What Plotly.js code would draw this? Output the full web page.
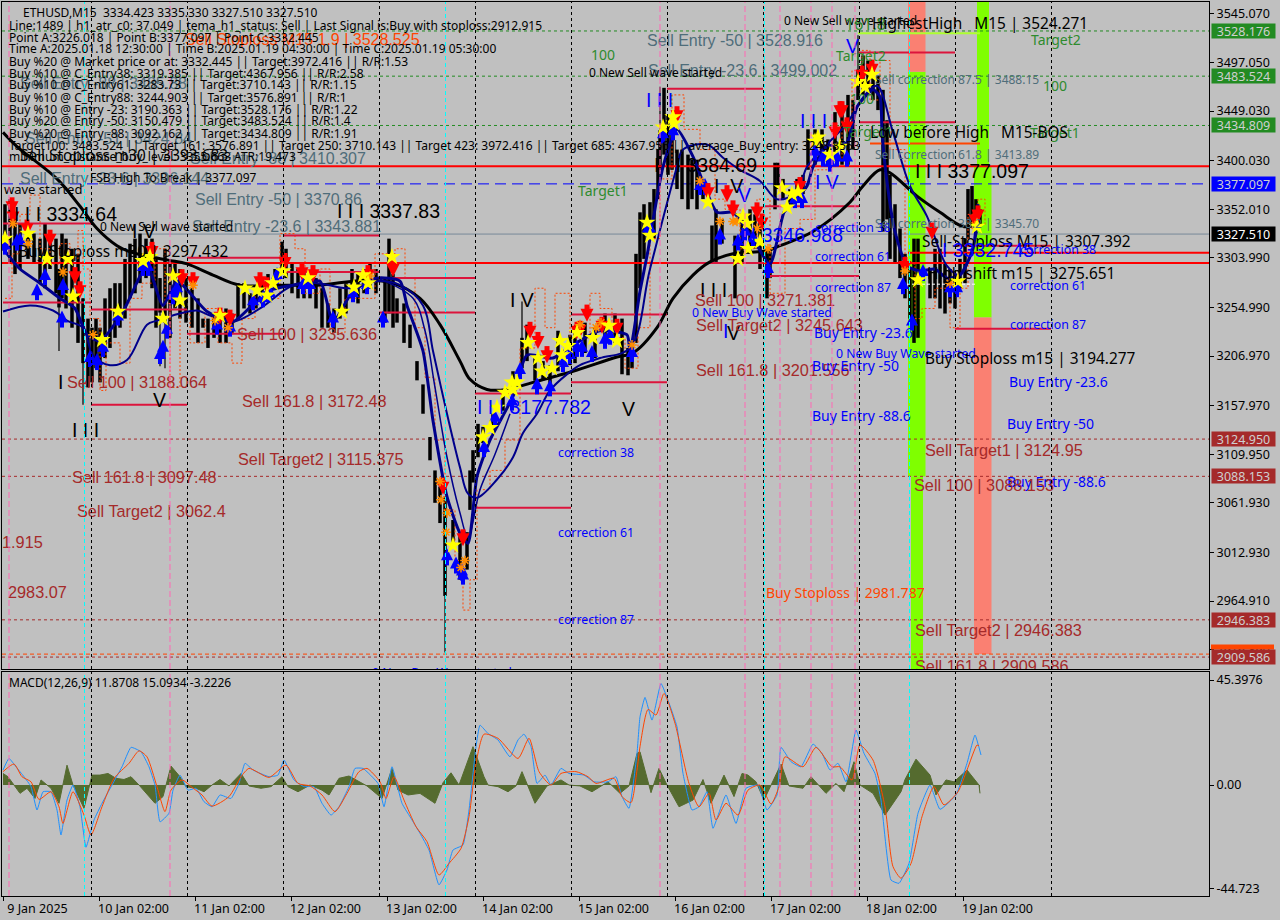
<!DOCTYPE html>
<html><head><meta charset="utf-8">
<script src="https://cdn.plot.ly/plotly-3.0.1.min.js"></script>
<style>html,body{margin:0;padding:0;background:#c0c0c0}#c{width:1280px;height:920px}</style></head>
<body><div id="c"></div><script>
const W=1280,H=920,TAHOMA='"Noto Sans"',ARIAL='"Liberation Sans"';
// axes
const dayTickBars=[3.5,99.5,195.5,291.5,387.5,483.5,579.5,675.5,771.5,867.5,963.5];
const dayTickText=['9 Jan 2025','10 Jan 02:00','11 Jan 02:00','12 Jan 02:00','13 Jan 02:00','14 Jan 02:00','15 Jan 02:00','16 Jan 02:00','17 Jan 02:00','18 Jan 02:00','19 Jan 02:00'];
const priceTicks=[3545.07,3497.05,3449.03,3400.03,3352.01,3303.99,3254.99,3206.97,3157.97,3109.95,3061.93,3012.93,2964.91,2916.89];
const macdTicks=[45.3976,0,-44.723];
const macdTickText=['45.3976','0.00','-44.723'];
// period separators and signal verticals
const dayBars=[91.5,187.5,283.5,379.5,475.5,571.5,667.5,763.5,859.5,955.5,1051.5];
const cyanBars=[84.5,445.5,764.5,909.5];
const pinkBars=[9,170,660,745,780,811,832,855];
// candles as high / low
const barNo=[5,10,15,20,28,34,40,45,50,56,59,62,66,72,78,83,88,92,96,100,105,110,115,120,125,130,135,140,146,152,156,160,165,170,175,180,186,192,198,203,208,214,220,226,232,238,244,250,256,262,268,275,282,286,292,298,304,310,316,322,328,334,340,346,352,358,364,370,376,385,389,393,397,404,410,417,423,430,435,440,445,453,460,467,470,473,478,483,493,503,513,522,527,535,543,550,558,570,575,585,595,605,615,622,628,632,636,640,644,650,654,658,660,664,668,672,677,682,688,692,697,703,712,716,722,735,742,750,755,760,767,770,775,778,783,790,797,803,808,815,822,828,835,842,848,853,858,863,868,873,878,883,887,890,895,900,905,910,914,918,930,935,940,945,950,955,960,965,968,972,976,980];
const barHigh=[3357,3362,3347,3338,3338,3328,3323,3338,3328,3323,3293,3328,3323,3313,3308,3264,3244,3235,3244,3235,3264,3274,3279,3279,3303,3318,3323,3328,3323,3323,3303,3284,3313,3298,3298,3293,3284,3274,3264,3244,3244,3249,3254,3254,3249,3279,3279,3269,3274,3279,3288,3293,3320,3313,3298,3293,3293,3288,3284,3274,3259,3254,3274,3279,3293,3288,3293,3298,3293,3284,3323,3288,3264,3259,3238,3202,3179,3127,3094,3078,3068,3045,3029,3033,3094,3114,3140,3137,3150,3171,3192,3225,3238,3205,3202,3198,3232,3228,3235,3240,3235,3249,3249,3244,3215,3220,3308,3349,3357,3359,3372,3411,3430,3472,3445,3431,3411,3411,3406,3401,3401,3377,3336,3352,3342,3326,3347,3352,3347,3342,3310,3313,3398,3398,3382,3372,3382,3386,3431,3431,3431,3421,3448,3450,3465,3460,3490,3504,3499,3489,3484,3470,3440,3386,3357,3333,3308,3293,3323,3323,3293,3313,3313,3298,3293,3288,3303,3323,3372,3375,3362,3352];
const barLow=[3308,3298,3288,3293,3303,3298,3279,3274,3293,3269,3255,3264,3254,3235,3220,3200,3176,3181,3195,3181,3205,3215,3225,3235,3244,3264,3269,3279,3284,3274,3235,3250,3240,3225,3254,3244,3240,3235,3220,3235,3215,3225,3220,3220,3230,3244,3254,3249,3254,3259,3264,3274,3293,3284,3269,3264,3264,3264,3254,3235,3235,3230,3244,3249,3264,3259,3269,3274,3269,3240,3249,3235,3240,3220,3215,3183,3150,3104,3062,3042,2970,3019,2986,2996,3055,3082,3107,3121,3134,3153,3169,3195,3202,3183,3183,3176,3192,3198,3200,3210,3205,3215,3220,3189,3188,3195,3220,3274,3303,3328,3323,3362,3391,3406,3386,3391,3372,3362,3352,3362,3352,3362,3300,3300,3318,3264,3298,3308,3313,3293,3264,3284,3352,3372,3362,3357,3362,3367,3391,3396,3406,3396,3406,3396,3396,3411,3460,3465,3470,3460,3450,3330,3342,3303,3298,3284,3264,3244,3220,3225,3264,3264,3254,3249,3259,3254,3274,3279,3323,3337,3337,3337];
const spikeBars=[59,83,160,165,445,522,660,858];
const spikeHigh=[3293,3264,3284,3313,3068,3261,3473,3524];
const spikeLow=[3212,3159,3197,3195,2914,3195,3391,3460];
// moving average and fast/slow lines
const emaBars=[3,17,57,80,97,117,130,167,187,213,240,283,317,367,393,420,440,460,470,487,507,533,573,617,633,657,673,693,710,733,767,780,813,850,863,880,890,917,940,963,975];
const emaValues=[3428,3414,3382,3355,3333,3316,3310,3302,3298,3287,3277,3277,3277,3282,3279,3264,3238,3202,3184,3174,3174,3181,3192,3206,3210,3235,3264,3287,3300,3308,3311,3316,3330,3359,3375,3391,3388,3365,3349,3335,3336];
const fastBars=[3,20,40,60,75,87,100,123,147,163,177,207,233,267,293,320,333,353,377,400,407,423,433,447,460,468,477,490,513,527,553,573,600,627,630,640,647,663,677,693,717,733,750,770,784,793,807,813,827,847,857,873,880,882,887,895,907,920,935,947,960,973,978];
const fastValues=[3313,3293,3279,3264,3254,3228,3222,3251,3296,3257,3281,3251,3241,3271,3277,3281,3241,3271,3284,3281,3257,3212,3143,3068,3032,3022,3088,3124,3167,3208,3205,3218,3232,3228,3212,3271,3306,3394,3431,3404,3349,3349,3328,3298,3349,3359,3375,3394,3414,3418,3453,3470,3463,3428,3379,3330,3296,3291,3293,3284,3287,3313,3357];
const slowBars=[3,30,53,67,83,93,110,127,147,157,180,197,210,233,260,293,317,350,377,400,423,433,447,460,468,477,497,513,523,537,550,567,580,600,630,650,677,683,707,723,740,760,777,797,807,827,847,865,877,893,910,927,947,960,977];
const slowValues=[3251,3257,3252,3242,3235,3208,3198,3203,3238,3242,3249,3252,3247,3241,3254,3277,3279,3274,3281,3277,3257,3212,3150,3097,3071,3067,3085,3107,3131,3150,3173,3189,3198,3205,3215,3293,3394,3411,3416,3403,3391,3380,3362,3369,3394,3416,3437,3465,3474,3428,3375,3345,3296,3287,3330];
const midBars=[380,413,425,435,447,460,468,480,495,510];
const midValues=[3283,3264,3232,3176,3107,3052,3028,3075,3110,3150];
const stepBars=[5,12,20,30,40,50,60,70,78,83,90,100,106,120,130,142,155,165,170,180,190,205,218,232,242,255,270,280,295,305,320,330,345,360,375,395,405,415,425,435,445,455,463,470,477,490,505,520,535,545,555,570,590,600,612,625,638,650,660,672,684,700,715,725,740,757,770,785,800,815,830,842,852,862,870,880,890,905,915,922,935,950,960,968,978,985];
const stepValues=[3264,3308,3347,3366,3313,3298,3318,3303,3331,3293,3244,3173,3220,3200,3264,3279,3313,3259,3176,3249,3220,3254,3220,3200,3244,3269,3264,3328,3313,3269,3293,3230,3264,3264,3308,3313,3284,3235,3186,3124,3055,3005,2956,2986,3075,3094,3124,3215,3274,3235,3269,3225,3269,3254,3225,3195,3235,3323,3382,3465,3431,3411,3362,3352,3313,3362,3269,3333,3342,3391,3401,3440,3489,3509,3460,3499,3411,3298,3244,3254,3274,3235,3274,3347,3362,3337];
// signal markers
const buyBars=[37,45,63,5,17,20,62,90,97,103,118,143,148,173,177,167,163,160,217,230,253,263,270,277,303,310,333,353,367,383,447,456,462,463,484,495,512,520,537,550,563,570,577,582,592,605,610,632,648,650,663,673,700,705,720,738,745,753,768,795,802,815,823,830,837,847,903,912,923,950,957];
const buyValues=[3271,3286,3276,3316,3320,3321,3244,3205,3202,3215,3246,3295,3295,3267,3274,3233,3215,3208,3237,3235,3261,3264,3269,3287,3277,3277,3244,3269,3277,3244,3009,3001,2994,2990,3116,3146,3162,3193,3178,3176,3200,3208,3215,3215,3210,3223,3227,3210,3333,3333,3426,3429,3375,3375,3326,3320,3330,3323,3293,3362,3362,3409,3403,3398,3403,3403,3277,3241,3290,3274,3274];
const sellBars=[12,13,27,50,75,80,152,182,193,220,230,260,267,285,302,313,368,393,443,463,530,538,547,580,587,602,617,577,677,708,727,733,757,762,800,840,835,847,842,862,872,905,932,978,975];
const sellValues=[3355,3345,3333,3323,3286,3272,3311,3284,3281,3246,3244,3281,3276,3300,3290,3288,3288,3293,3078,3027,3232,3222,3208,3233,3249,3237,3235,3232,3445,3369,3367,3352,3350,3339,3375,3450,3429,3434,3450,3485,3491,3296,3330,3347,3342];
const starBars=[5,28,68,47,73,102,118,143,150,173,180,163,220,245,257,267,273,283,308,354,342,363,368,392,453,483,490,497,505,512,517,513,528,538,542,552,560,568,562,577,593,609,617,647,650,663,673,674,708,738,743,747,748,760,782,787,792,798,815,818,830,840,858,865,872,918,958,977];
const starValues=[3323,3328,3303,3303,3266,3223,3251,3301,3305,3286,3262,3244,3247,3274,3272,3267,3279,3291,3284,3275,3251,3287,3279,3305,3020,3127,3136,3156,3171,3181,3181,3174,3220,3205,3192,3195,3222,3217,3208,3230,3225,3237,3222,3339,3326,3433,3443,3437,3359,3303,3345,3338,3313,3320,3373,3354,3367,3369,3419,3423,3406,3414,3478,3473,3485,3282,3281,3335];
const crossBars=[13,28,93,63,215,228,193,370,440,441,447,446,465,461,580,596,601,632,700,720,733,737,757,768,905,950,975];
const crossValues=[3338,3318,3228,3290,3242,3235,3277,3286,3083,3065,3052,3033,3005,2998,3238,3235,3240,3218,3380,3340,3340,3340,3333,3313,3291,3279,3336];
// wave levels: start bar, end bar, price
const crimsonStart=[3,3,91,91,187,187,283,283,379,379,475,475,571,571,667,667,763,763,859,859,955,955];
const crimsonEnd=[91,91,187,187,283,283,379,379,475,475,571,571,667,667,763,763,859,859,955,955,1051,1051];
const crimsonPrice=[3338,3260,3253,3159,3304,3229,3326,3290,3284,3250,3170,3057,3248,3181,3471,3299,3355,3286,3507,3438,3316,3234];
const greenLevels=[3528.176,3483.524,3434.809];
const brownLevels=[3124.95,3088.153,2946.383,2909.586];
// right-hand price tags
const tagText=['3528.176','3483.524','3434.809','3377.097','3327.510','3124.950','3088.153','2946.383','2909.586'];
const tagPrice=[3528.176,3483.524,3434.809,3377.097,3327.51,3124.95,3088.153,2946.383,2909.586];
const tagColor=['#228b22','#228b22','#228b22','#0000ff','#000000','#a52a2a','#a52a2a','#a52a2a','#a52a2a'];
// macd
const histBars=[3,8,14,20,27,35,41,51,59,67,73,84,92,100,108,116,124,131,139,155,163,171,180,186,196,204,212,220,229,241,249,261,271,282,288,298,310,322,329,339,349,359,367,382,392,398,408,420,435,443,451,459,473,484,488,498,508,516,522,535,547,561,569,580,592,608,620,629,637,640,646,651,659,667,679,693,703,711,724,734,742,748,756,764,781,789,803,811,826,836,844,854,860,873,885,901,905,916,930,936,946,954,967,979,980];
const histValues=[5,3.6,0,-3.6,-1.4,-5.8,2.2,-1.4,-7.9,8.6,0,-10.1,4.3,4.3,5,2.9,2.4,3.6,0,-7.9,-5,8.2,3.6,-0.7,-1.4,-2.9,0,2.4,-0.4,5,-0.4,-1.4,-0.7,3.6,-0.7,-2.9,0,-2.2,-4.3,2.9,3.9,1.4,-0.4,-5.8,7.2,-2.2,-4.3,-3.6,-7.9,1,5.3,0,16.6,3.6,0,-0.7,-2.9,-0.4,5.8,-7.9,-0.4,2.2,0,-0.4,-2.9,1.4,-3.6,-0.4,13.7,14.4,5,-3.3,7.2,0,-9.4,-6.5,2.4,-7.9,4.3,-5,5,4.3,1.4,-6.5,9.1,-0.4,-1.4,3.6,-3.6,0.7,-2.9,10.1,0,-3.6,-13,-2.9,2.4,11.2,4.3,-4.3,2.2,1.4,6.5,0,-3.6];
const macdBars=[3,9,16,24,31,37,43,51,57,61,67,73,80,86,94,102,112,122,131,141,149,155,160,169,173,180,188,196,204,212,220,231,239,245,253,269,278,284,294,304,314,322,331,339,349,355,363,378,384,392,402,412,420,429,439,447,453,463,469,476,480,488,498,510,518,524,531,537,545,551,561,569,584,594,608,616,622,629,637,640,645,652,661,668,677,683,692,699,707,713,726,736,746,758,767,777,781,791,801,813,822,830,838,846,856,864,875,881,891,899,909,918,930,940,956,967,975,981];
const macdValues=[6.5,11.5,7.9,3.6,-0.7,-10.8,-2.9,-2.9,-10.8,-21.6,-6.5,0,-9.4,-26.9,-15.1,-7.9,0,7.9,16.3,14.4,7.9,0,-15.9,-12.2,-2.2,4.3,-2.2,-1.4,-7.2,-9.4,-4.3,-5.8,0.7,9.4,6.5,3.6,4.3,10.8,2.2,-0.7,-0.7,-7.9,-13,-9.4,-0.7,7.2,7.2,0.7,-9.4,7.9,-7.9,-15.1,-20.9,-28.1,-43.2,-36.7,-28.1,-25.9,-10.8,16.6,25.9,22.3,19.5,12.2,19.5,22,16.6,0.7,4.3,0,7.2,5,4.3,1.4,1.4,3.6,-5,-10.1,13.7,29.5,37.9,28.1,43.9,36.7,25.2,5,-10.8,-9.4,-2.9,-18.7,-4.3,-16.6,-1.4,0,-10.8,-4.3,16.3,10.1,7.9,17.7,13.7,6.5,9.4,1.4,23.8,13.7,5,-6.5,-41.1,-42.5,-33.9,-12.2,0,-10.5,-4.3,9.4,21.6,13];
const signalBars=[3,14,22,31,39,51,59,63,73,84,91,102,114,129,139,147,157,165,171,182,192,202,212,229,241,249,269,286,298,310,322,335,347,359,367,380,386,394,404,416,427,439,449,461,469,476,484,498,518,529,539,551,561,576,588,596,614,622,631,637,640,648,656,664,675,689,699,709,716,726,738,748,760,771,779,785,803,816,832,840,852,860,873,885,893,901,911,922,934,944,958,967,977,979];
const signalValues=[5.8,9.1,3.6,1.4,-6.2,-2.9,-9.4,-16.6,-2.9,-13,-21.6,-9.4,2.9,9.4,14.8,12.2,-0.7,-11.5,-2.2,2.2,-1,-4.3,-9.1,-5,3.6,7.2,3.3,8.6,0.7,-0.4,-4.3,-11.5,-3.6,5.8,7.2,1.4,-5.8,3.6,-6.5,-18,-24.5,-38.9,-33.9,-27.4,-13.7,9.4,22,20.2,11.5,20.2,5.8,0,5,5.8,3.6,0.7,2.9,-5,-7.6,6.5,16.6,32.7,30.3,39.6,26.7,0.7,-9.4,-3.6,-15.1,-7.9,-13,-2.2,0,-8.2,-0.7,12.2,7.9,16.3,7.9,7.9,2.2,17.3,10.8,-9.4,-35.3,-40.3,-33.9,-13.7,-0.7,-8.6,-2.9,6.5,17.3,16.9];
// chart labels
const SLATE='#4f6d7a',BROWN='#a52a2a',BLUE='#0000ff',GREEN='#2e8b2e',BLACK='#000000',ORANGE='#ff4500';
const chartLabels=[
['Sell Entry -88 | 3485.88',20,3477,16,SLATE,ARIAL],['Sell Entry -51 | 3424.84',25,3423,16,SLATE,ARIAL],['Sell Entry -88 | 3410.307',190,3403,16,SLATE,ARIAL],
['Sell Entry -23.6 | 3396.144',20,3383,16,SLATE,ARIAL],['Sell Entry -50 | 3370.86',195,3363,16,SLATE,ARIAL],['Sell Entry -23.6 | 3343.881',192,3336,16,SLATE,ARIAL],
['Sell Entry -50 | 3528.916',647,3520,16,SLATE,ARIAL],['Sell Entry -23.6 | 3499.002',648,3490,16,SLATE,ARIAL],
['Sell Stoploss m30 | 3393.683',20,3406,15.4,BLACK,TAHOMA],['Sell Stoploss M15 1.9 | 3528.525',185,3521,16,ORANGE,ARIAL],
['FSB High To Break | 3377.097',90,3384,12,BLACK,TAHOMA],['wave started',4,3373,13,BLACK,TAHOMA],['I I I 3334.64',14,3348,19.5,BLACK,ARIAL],
['0 New Sell wave started',100,3336,12,BLACK,TAHOMA],['I V',132,3331,19.5,BLACK,ARIAL],['Buy Stoploss m30 | 3297.432',18,3311,15.4,BLACK,TAHOMA],['I I I 3337.83',337,3351,19.5,BLACK,ARIAL],
['Sell 100 | 3235.636',237,3229,16.3,BROWN,ARIAL],['Sell 100 | 3188.064',67,3182,16.3,BROWN,ARIAL],['I',58,3182,19.5,BLACK,ARIAL],['V',153,3164,19.5,BLACK,ARIAL],['I I I',72,3134,19.5,BLACK,ARIAL],
['Sell 161.8 | 3172.48',242,3163,16.3,BROWN,ARIAL],['Sell Target2 | 3115.375',238,3106,16.3,BROWN,ARIAL],['Sell 161.8 | 3097.48',72,3088,16.3,BROWN,ARIAL],['Sell Target2 | 3062.4',77,3054,16.3,BROWN,ARIAL],
['1.915',2,3024,16.3,BROWN,ARIAL],['2983.07',8,2974,16.3,BROWN,ARIAL],
['correction 38',558,3113,12.3,BLUE,TAHOMA],['correction 61',558,3034,12.3,BLUE,TAHOMA],['correction 87',558,2948,12.3,BLUE,TAHOMA],['0 New Buy Wave started',372,2895,12.3,BLUE,TAHOMA],
['I I I 3177.782',477,3157,19.5,BLUE,ARIAL],['I V',510,3263,19.5,BLACK,ARIAL],['V',622,3155,19.5,BLACK,ARIAL],['Target1',578,3371,14,GREEN,TAHOMA],['100',591,3505,14,GREEN,TAHOMA],
['0 New Sell wave started',589,3488,12,BLACK,TAHOMA],['I I I',646,3460,19.5,BLUE,ARIAL],['I I I 3384.69',654,3396,19.5,BLACK,ARIAL],['I  V',714,3375,19.5,BLACK,ARIAL],['V',738,3367,19.5,BLUE,ARIAL],
['I I 3346.988',740,3327,19.5,BLUE,ARIAL],['I I I',700,3273,19.5,BLACK,ARIAL],['I',723,3232,19.5,BLUE,ARIAL],['V',727,3230,19.5,BLACK,ARIAL],
['Sell 100 | 3271.381',695,3263,16.3,BROWN,ARIAL],['0 New Buy Wave started',692,3251,12.3,BLUE,TAHOMA],['Sell Target2 | 3245.643',696,3238,16.3,BROWN,ARIAL],['Sell 161.8 | 3201.556',696,3194,16.3,BROWN,ARIAL],
['correction 38',815,3335,12.3,BLUE,TAHOMA],['correction 61',815,3306,12.3,BLUE,TAHOMA],['correction 87',815,3276,12.3,BLUE,TAHOMA],
['Buy Entry -23.6',814,3231,14,BLUE,TAHOMA],['0 New Buy Wave started',836,3211,12.3,BLUE,TAHOMA],['Buy Entry -50',812,3198,14,BLUE,TAHOMA],['Buy Entry -88.6',812,3149,14,BLUE,TAHOMA],
['Buy Stoploss | 2981.787',766,2974,14,ORANGE,TAHOMA],['0 New Sell wave started',784,3540,12,BLACK,TAHOMA],['161.8',845,3536,16,GREEN,TAHOMA],['HighestHigh   M15 | 3524.271',872,3536,15.4,BLACK,TAHOMA],
['Target2',1031,3520,14,GREEN,TAHOMA],['Target2',836,3504,14,GREEN,TAHOMA],['V',846,3514,19.5,BLUE,ARIAL],['100',1043,3475,14,GREEN,TAHOMA],['100',850,3462,14,GREEN,TAHOMA],
['I I I',800,3440,19.5,BLUE,ARIAL],['Target1',843,3429,14,GREEN,TAHOMA],['Target1',1030,3428,14,GREEN,TAHOMA],['Low before High   M15-BOS',870,3429,15.4,BLACK,TAHOMA],
['Sell correction 87.5 | 3488.15',875,3481,12,SLATE,TAHOMA],['Sell correction 61.8 | 3413.89',875,3407,12,SLATE,TAHOMA],['Sell correction 38.2 | 3345.70',875,3339,12,SLATE,TAHOMA],
['I I I 3377.097',915,3390,19.5,BLACK,ARIAL],['I V',815,3379,19.5,BLUE,ARIAL],['Sell-Stoploss M15 | 3307.392',922,3321,15.4,BLACK,TAHOMA],['I 3332.745',942,3312,19.5,BLUE,ARIAL],
['correction 38',1020,3313,12.3,BLUE,TAHOMA],['High shift m15 | 3275.651',927,3289,15.4,BLACK,TAHOMA],['correction 61',1010,3278,12.3,BLUE,TAHOMA],['correction 87',1010,3239,12.3,BLUE,TAHOMA],
['Buy Stoploss m15 | 3194.277',925,3205,15.4,BLACK,TAHOMA],['Buy Entry -23.6',1009,3182,14,BLUE,TAHOMA],['Buy Entry -50',1007,3141,14,BLUE,TAHOMA],['Buy Entry -88.6',1007,3084,14,BLUE,TAHOMA],
['Sell Target1 | 3124.95',925,3115,16.3,BROWN,ARIAL],['Sell 100 | 3088.153',914,3080,16.3,BROWN,ARIAL],['Sell Target2 | 2946.383',915,2937,16.3,BROWN,ARIAL],['Sell 161.8 | 2909.586',915,2901,16.3,BROWN,ARIAL]
];
const infoLines=['Line:1489 | h1_atr_c0: 37.049 | tema_h1_status: Sell | Last Signal is:Buy with stoploss:2912.915',
'Point A:3226.018 | Point B:3377.097 | Point C:3332.445','Time A:2025.01.18 12:30:00 | Time B:2025.01.19 04:30:00 | Time C:2025.01.19 05:30:00',
'Buy %20 @ Market price or at: 3332.445 || Target:3972.416 || R/R:1.53','Buy %10 @ C_Entry38: 3319.385 || Target:4367.956 || R/R:2.58',
'Buy %10 @ C_Entry61: 3283.73 || Target:3710.143 || R/R:1.15','Buy %10 @ C_Entry88: 3244.903 || Target:3576.891 || R/R:1',
'Buy %10 @ Entry -23: 3190.363 || Target:3528.176 || R/R:1.22','Buy %20 @ Entry -50: 3150.479 || Target:3483.524 || R/R:1.4',
'Buy %20 @ Entry -88: 3092.162 || Target:3434.809 || R/R:1.91',
'Target100: 3483.524 || Target 161: 3576.891 || Target 250: 3710.143 || Target 423: 3972.416 || Target 685: 4367.956 || average_Buy_entry: 3248.8553',
'minimum_distance_buy_level: 3355.663 ATR:19.473'];
const header='ETHUSD,M15  3334.423 3335.330 3327.510 3327.510';
const macdHeader='MACD(12,26,9) 11.8708 15.0934 -3.2226';
// helpers
const xEnds=[2,1209];
const LABEL_DROP=2.5, ARROW_LIFT=8, STEM_DROP=4;
function hline(p,c,w,d,x0,x1){return {x:[x0??xEnds[0],x1??xEnds[1]],y:[p,p],mode:'lines',line:{color:c,width:w,dash:d||'solid'},xaxis:'x2',yaxis:'y2',hoverinfo:'skip',showlegend:false};}
function main(o){return Object.assign({xaxis:'x2',yaxis:'y2',hoverinfo:'skip',showlegend:false},o);}
function low(o){return Object.assign({xaxis:'x',yaxis:'y',hoverinfo:'skip',showlegend:false},o);}
const wickX=[],wickY=[];barNo.forEach((b,i)=>{wickX.push(b,b,null);wickY.push(barHigh[i],barLow[i],null);});
const spikeX=[],spikeY=[];spikeBars.forEach((b,i)=>{spikeX.push(b,b,null);spikeY.push(spikeHigh[i],spikeLow[i],null);});
const segX=[],segY=[];crimsonStart.forEach((s,i)=>{segX.push(s,crimsonEnd[i],null);segY.push(crimsonPrice[i],crimsonPrice[i],null);});
const traces=[
 hline(3327.51,'#778899',1),
 ...greenLevels.map(p=>hline(p,'#228b22',1,'3px,3px')),
 ...brownLevels.map(p=>hline(p,'#a52a2a',1,'3px,3px')),
 hline(2912.5,'#ff4500',1,'4px,3px'),
 hline(3377.097,'#0000ff',1,'11px,6px'),
 main({x:wickX,y:wickY,mode:'lines',line:{color:'#000',width:3.5},connectgaps:false}),
 main({x:spikeX,y:spikeY,mode:'lines',line:{color:'#000',width:1.2},connectgaps:false}),
 main({x:stepBars,y:stepValues,mode:'lines',line:{color:'#ff4500',width:1,dash:'2px,2px',shape:'hv'}}),
 hline(3394.6,'#ff0000',2),hline(3299,'#ff0000',2),hline(3309,'#ff0000',2,'solid',908,1209),
 main({x:segX,y:segY,mode:'lines',line:{color:'#dc143c',width:2},connectgaps:false}),
 hline(3526,'#adff2f',2,'solid',858,980),hline(3417,'#ff4500',2,'solid',870,980),hline(3278,'#ffffff',1,'3px,2px',907,975),
 main({x:emaBars,y:emaValues,mode:'lines',line:{color:'#000',width:3,shape:'spline'}}),
 main({x:slowBars,y:slowValues,mode:'lines',line:{color:'#00008b',width:2,shape:'spline'}}),
 main({x:midBars,y:midValues,mode:'lines',line:{color:'#00008b',width:1.5,shape:'spline'}}),
 main({x:fastBars,y:fastValues,mode:'lines',line:{color:'#00008b',width:3,shape:'spline',smoothing:0.6}}),
 main({x:buyBars,y:buyValues.map(v=>v-STEM_DROP),mode:'markers',marker:{symbol:'line-ns',size:7,line:{color:'#0000ff',width:4}}}),
 main({x:buyBars,y:buyValues.map(v=>v+ARROW_LIFT),mode:'markers',marker:{symbol:'arrow-up',size:12,color:'#0000ff',line:{width:0}}}),
 main({x:sellBars,y:sellValues.map(v=>v+STEM_DROP),mode:'markers',marker:{symbol:'line-ns',size:7,line:{color:'#ff0000',width:5}}}),
 main({x:sellBars,y:sellValues.map(v=>v-ARROW_LIFT),mode:'markers',marker:{symbol:'arrow-down',size:13,color:'#ff0000',line:{width:0}}}),
 main({x:crossBars,y:crossValues,mode:'markers',marker:{symbol:'asterisk-open',size:8,color:'#ff8c00',line:{color:'#ff8c00',width:1.5}}}),
 main({x:starBars,y:starValues,mode:'markers',marker:{symbol:'star',size:13,color:'#ffff00',line:{width:0}}}),
 main({x:chartLabels.map(r=>r[1]),y:chartLabels.map(r=>r[2]-LABEL_DROP),text:chartLabels.map(r=>r[0]),mode:'text',textposition:'middle right',
   textfont:{size:chartLabels.map(r=>r[3]),color:chartLabels.map(r=>r[4]),family:chartLabels.map(r=>r[5])}}),
 low({x:histBars,y:histValues,mode:'lines',fill:'tozeroy',fillcolor:'#556b2f',line:{color:'#556b2f',width:1}}),
 low({x:macdBars,y:macdValues,mode:'lines',line:{color:'#1e90ff',width:1,shape:'spline',smoothing:0.4}}),
 low({x:signalBars,y:signalValues,mode:'lines',line:{color:'#ff4500',width:1,shape:'spline',smoothing:0.6}})
];
const shapes=[];
function vlines(bars,color,dash,w){bars.forEach(b=>{['y domain','y2 domain'].forEach(yr=>shapes.push({type:'line',xref:yr==='y domain'?'x':'x2',yref:yr,x0:b,x1:b,y0:0,y1:1,line:{color,width:w,dash},layer:'above'}));});}
vlines(dayBars,'#000000','3px,3px',1);vlines(cyanBars,'#00ffff','4px,3px',1);vlines(pinkBars,'#ff69b4','6px,3px',1);
function band(x0,x1,p0,p1,c){shapes.push({type:'rect',xref:'x2',yref:'y2',x0,x1,y0:p0,y1:p1,fillcolor:c,line:{width:0},layer:'below'});}
band(908,925.5,3488,3088,'#7fff00');band(908,925.5,3556.8,3488,'#fa8072');band(911,923,3088,2897.8,'#7fff00');
band(977,989,3556.8,3394.6,'#7fff00');band(974,991.5,3394.6,3245,'#7fff00');band(974,991.5,3245,2912.5,'#fa8072');
shapes.push({type:'rect',xref:'paper',yref:'y2',x0:1211/W,x1:1274/W,y0:2922,y1:2917,fillcolor:'#ff4500',line:{width:0},layer:'above'});
const ann=[];
function infoAnn(t,x,y,size){ann.push({xref:'paper',yref:'paper',x:x/W,y:1-y/H,xanchor:'left',yanchor:'middle',text:t,showarrow:false,font:{family:TAHOMA,size:size||12,color:'#000'},align:'left'});}
infoAnn(header,21,12);infoLines.forEach((t,i)=>infoAnn(t,7,i===0?25.5:37+(i-1)*12));infoAnn(macdHeader,7,682);
tagPrice.forEach((p,i)=>ann.push({xref:'paper',yref:'y2',x:1211/W,y:p,xanchor:'left',yanchor:'middle',width:63,height:14,borderpad:0,bgcolor:tagColor[i],text:tagText[i],showarrow:false,align:'center',font:{family:TAHOMA,size:12.5,color:i===4?'#ffffff':'#cfcfcf'}}));
const axisFont={family:TAHOMA,size:12.5,color:'#000'};
const layout={width:W,height:H,margin:{l:0,r:0,t:0,b:0},paper_bgcolor:'#c0c0c0',plot_bgcolor:'#c0c0c0',showlegend:false,hovermode:false,shapes,annotations:ann,
 xaxis:{domain:[2/W,1209/W],range:xEnds,anchor:'y',tickmode:'array',tickvals:dayTickBars,ticktext:dayTickText,ticks:'outside',ticklen:4,tickcolor:'#000',tickfont:axisFont,ticklabelshift:34,ticklabelstandoff:-3,showgrid:false,zeroline:false,showline:true,linecolor:'#000',linewidth:1,mirror:true,ticklabeloverflow:'allow'},
 yaxis:{domain:[1-896/H,1-672/H],range:[-48,48.9],anchor:'x',side:'right',tickmode:'array',tickvals:macdTicks,ticktext:macdTickText,ticks:'outside',ticklen:4,tickcolor:'#000',tickfont:axisFont,showgrid:false,zeroline:false,showline:true,linecolor:'#000',linewidth:1,mirror:true},
 xaxis2:{domain:[2/W,1209/W],range:xEnds,anchor:'y2',matches:'x',showticklabels:false,ticks:'',showgrid:false,zeroline:false,showline:true,linecolor:'#000',linewidth:1,mirror:true},
 yaxis2:{domain:[1-669/H,1-2/H],range:[2897.8,3556.8],anchor:'x2',side:'right',tickmode:'array',tickvals:priceTicks,ticktext:priceTicks.map(v=>v.toFixed(3)),ticks:'outside',ticklen:4,tickcolor:'#000',tickfont:axisFont,showgrid:false,zeroline:false,showline:true,linecolor:'#000',linewidth:1,mirror:true}
};
Plotly.newPlot('c',traces,layout,{staticPlot:true,displayModeBar:false});
</script></body></html>
